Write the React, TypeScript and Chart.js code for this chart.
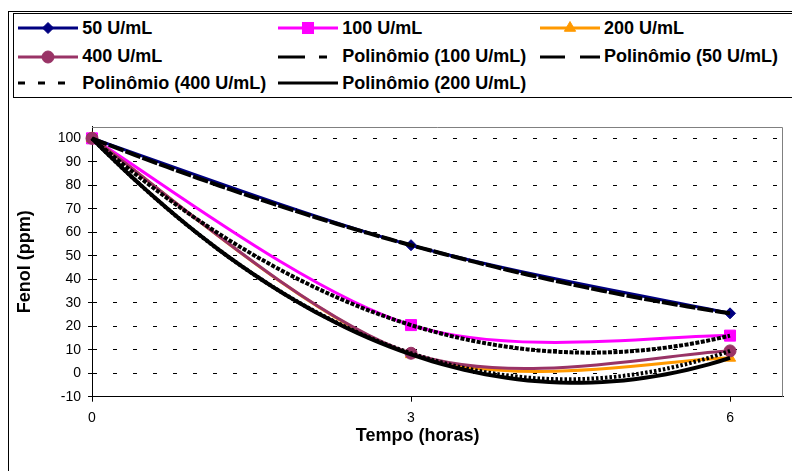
import React, { useEffect, useRef } from 'react';
import { Chart, registerables } from 'chart.js';

Chart.register(...registerables);

const FONT = '"Liberation Sans", Arial, Helvetica, sans-serif';

// ---- data ----
const tempoHoras = [0, 3, 6];
const fenol50 = [100, 54.5, 25.5];
const fenol100 = [100, 20.5, 16];
const fenol200 = [100, 8, 6.5];
const fenol400 = [100, 8.5, 9.5];

const yTickValues = [-10, 0, 10, 20, 30, 40, 50, 60, 70, 80, 90, 100];
const xTickValues = [0, 3, 6];
const X_MIN = 0;
const X_MAX = 6.5;
const Y_MIN = -10;
const Y_MAX = 105;

const xTitle = 'Tempo (horas)';
const yTitle = 'Fenol (ppm)';

type SeriesDef = {
  label: string;
  values: number[];
  color: string;
  pointStyle: 'rectRot' | 'rect' | 'triangle' | 'circle';
  radius: number;
  order: number;
};

const seriesDefs: SeriesDef[] = [
  { label: '50 U/mL', values: fenol50, color: '#000080', pointStyle: 'rectRot', radius: 5.5, order: 4 },
  { label: '100 U/mL', values: fenol100, color: '#FF00FF', pointStyle: 'rect', radius: 7.8, order: 3 },
  { label: '200 U/mL', values: fenol200, color: '#FF9900', pointStyle: 'triangle', radius: 6.5, order: 2 },
  { label: '400 U/mL', values: fenol400, color: '#993366', pointStyle: 'circle', radius: 6, order: 1 },
];

type TrendDef = { label: string; values: number[]; dash: number[]; plotDash: number[]; order: number };

const trendDefs: TrendDef[] = [
  { label: 'Polinômio (50 U/mL)', values: fenol50, dash: [25, 15], plotDash: [16, 2], order: -1 },
  { label: 'Polinômio (100 U/mL)', values: fenol100, dash: [27, 14, 8, 14], plotDash: [4, 1.5], order: -2 },
  { label: 'Polinômio (200 U/mL)', values: fenol200, dash: [], plotDash: [], order: -3 },
  { label: 'Polinômio (400 U/mL)', values: fenol400, dash: [7, 13], plotDash: [2.5, 2], order: -4 },
];

const legendRows: string[][] = [
  ['50 U/mL', '100 U/mL', '200 U/mL'],
  ['400 U/mL', 'Polinômio (100 U/mL)', 'Polinômio (50 U/mL)'],
  ['Polinômio (400 U/mL)', 'Polinômio (200 U/mL)'],
];

// ---- 2nd order polynomial trendline (least squares, as Excel does) ----
function fitQuadratic(xs: number[], ys: number[]): number[] {
  let s0 = 0, s1 = 0, s2 = 0, s3 = 0, s4 = 0, t0 = 0, t1 = 0, t2 = 0;
  for (let i = 0; i < xs.length; i++) {
    const x = xs[i];
    const y = ys[i];
    s0 += 1; s1 += x; s2 += x * x; s3 += x * x * x; s4 += x * x * x * x;
    t0 += y; t1 += x * y; t2 += x * x * y;
  }
  const m = [
    [s0, s1, s2, t0],
    [s1, s2, s3, t1],
    [s2, s3, s4, t2],
  ];
  for (let c = 0; c < 3; c++) {
    let p = c;
    for (let r = c + 1; r < 3; r++) if (Math.abs(m[r][c]) > Math.abs(m[p][c])) p = r;
    [m[c], m[p]] = [m[p], m[c]];
    for (let r = 0; r < 3; r++) {
      if (r === c) continue;
      const f = m[r][c] / m[c][c];
      for (let k = c; k < 4; k++) m[r][k] -= f * m[c][k];
    }
  }
  return [m[0][3] / m[0][0], m[1][3] / m[1][1], m[2][3] / m[2][2]]; // c0, c1, c2
}

function trendPoints(values: number[]) {
  const [c0, c1, c2] = fitQuadratic(tempoHoras, values);
  const x0 = tempoHoras[0];
  const x1 = tempoHoras[tempoHoras.length - 1];
  const steps = 60;
  const pts: { x: number; y: number }[] = [];
  for (let i = 0; i <= steps; i++) {
    const x = x0 + ((x1 - x0) * i) / steps;
    pts.push({ x, y: c0 + c1 * x + c2 * x * x });
  }
  return pts;
}

// Excel-like "smoothed line": Catmull-Rom style control points (1/6 of neighbour span)
const smoothLabels = new Set(seriesDefs.map((s) => s.label));
const excelSmoothPlugin = {
  id: 'excelSmooth',
  afterDatasetsUpdate(chart: any) {
    chart.data.datasets.forEach((ds: any, i: number) => {
      if (!smoothLabels.has(ds.label)) return;
      const meta = chart.getDatasetMeta(i);
      const pts = meta.data;
      const n = pts.length;
      for (let k = 0; k < n; k++) {
        const p = pts[k];
        const prev = pts[Math.max(k - 1, 0)];
        const next = pts[Math.min(k + 1, n - 1)];
        const dx = (next.x - prev.x) / 6;
        const dy = (next.y - prev.y) / 6;
        p.cp1x = p.x - dx;
        p.cp1y = p.y - dy;
        p.cp2x = p.x + dx;
        p.cp2y = p.y + dy;
      }
      if (meta.dataset) meta.dataset._pointsUpdated = true;
    });
  },
};

const plotFramePlugin = {
  id: 'plotFrame',
  beforeDatasetsDraw(chart: any) {
    const { ctx, chartArea } = chart;
    const top = Math.round(chartArea.top) + 0.5;
    const right = Math.round(chartArea.right) - 0.5;
    ctx.save();
    ctx.strokeStyle = '#808080';
    ctx.lineWidth = 1;
    ctx.beginPath();
    ctx.moveTo(chartArea.left, top);
    ctx.lineTo(right, top);
    ctx.lineTo(right, chartArea.bottom);
    ctx.stroke();
    ctx.restore();
  },
};

const xTitlePlugin = {
  id: 'xTitleOffset',
  afterDraw(chart: any) {
    const { ctx, chartArea } = chart;
    const text = chart.options.scales.x.title.text;
    ctx.save();
    ctx.font = `bold 18px ${FONT}`;
    ctx.fillStyle = '#000';
    ctx.textAlign = 'center';
    ctx.textBaseline = 'middle';
    ctx.fillText(text, chartArea.left + (chartArea.right - chartArea.left) * 0.471, chartArea.bottom + 39);
    ctx.restore();
  },
};

function LegendSample({ label }: { label: string }) {
  const s = seriesDefs.find((d) => d.label === label);
  const t = trendDefs.find((d) => d.label === label);
  const color = s ? s.color : '#000';
  const dash = t && t.dash.length ? t.dash.join(' ') : undefined;
  let marker: React.ReactNode = null;
  if (s) {
    const r = s.radius;
    const cx = 30;
    const cy = 10;
    if (s.pointStyle === 'rectRot') {
      marker = <polygon points={`${cx},${cy - r} ${cx + r},${cy} ${cx},${cy + r} ${cx - r},${cy}`} fill={color} stroke={color} strokeWidth={1} />;
    } else if (s.pointStyle === 'rect') {
      const h = r * Math.SQRT1_2;
      marker = <rect x={cx - h} y={cy - h} width={2 * h} height={2 * h} fill={color} stroke={color} strokeWidth={1} />;
    } else if (s.pointStyle === 'triangle') {
      const dx = r * Math.sin((2 * Math.PI) / 3);
      const dy = -r * Math.cos((2 * Math.PI) / 3);
      marker = <polygon points={`${cx},${cy - r} ${cx + dx},${cy + dy} ${cx - dx},${cy + dy}`} fill={color} stroke={color} strokeWidth={1} />;
    } else {
      marker = <circle cx={cx} cy={cy} r={r} fill={color} stroke={color} strokeWidth={1} />;
    }
  }
  return (
    <svg width={60} height={20} style={{ display: 'block', flex: '0 0 auto' }}>
      <line x1={0} y1={10} x2={60} y2={10} stroke={color} strokeWidth={3} strokeDasharray={dash} strokeLinecap="butt" />
      {marker}
    </svg>
  );
}

const legendColLefts = [18.3, 278.3, 540];
const legendRowCenters = [28.3, 56.7, 83.3];

export default function App() {
  const canvasRef = useRef<HTMLCanvasElement | null>(null);

  useEffect(() => {
    if (!canvasRef.current) return;
    const datasets: any[] = [];
    seriesDefs.forEach((s) => {
      datasets.push({
        label: s.label,
        data: tempoHoras.map((x, i) => ({ x, y: s.values[i] })),
        borderColor: s.color,
        backgroundColor: s.color,
        borderWidth: 3,
        pointStyle: s.pointStyle,
        pointRadius: s.radius,
        pointBorderWidth: 1,
        pointBorderColor: s.color,
        pointBackgroundColor: s.color,
        tension: 0.4,
        capBezierPoints: false,
        fill: false,
        clip: false,
        order: s.order,
      });
    });
    trendDefs.forEach((t) => {
      datasets.push({
        label: t.label,
        data: trendPoints(t.values),
        borderColor: '#000',
        backgroundColor: '#000',
        borderWidth: 4,
        borderDash: t.plotDash,
        pointRadius: 0,
        tension: 0,
        fill: false,
        clip: false,
        order: t.order,
      });
    });

    const chart = new Chart(canvasRef.current, {
      type: 'line',
      data: { datasets },
      options: {
        animation: false,
        responsive: false,
        devicePixelRatio: 1,
        events: [],
        layout: { padding: { left: 0, right: 1, top: 26.6, bottom: 0 } },
        plugins: {
          legend: { display: false },
          tooltip: { enabled: false },
        },
        scales: {
          x: {
            type: 'linear',
            min: X_MIN,
            max: X_MAX,
            afterBuildTicks: (axis: any) => {
              axis.ticks = xTickValues.map((v) => ({ value: v }));
            },
            afterFit: (scale: any) => {
              scale.height = 74.3;
            },
            ticks: { color: '#000', font: { family: FONT, size: 14 }, padding: 8, maxRotation: 0, autoSkip: false },
            grid: { drawOnChartArea: false, drawTicks: true, tickLength: 5, tickColor: '#000', color: '#000' },
            border: { display: true, color: '#000', width: 1 },
            title: { display: false, text: xTitle },
          },
          y: {
            type: 'linear',
            min: Y_MIN,
            max: Y_MAX,
            afterBuildTicks: (axis: any) => {
              axis.ticks = yTickValues.map((v) => ({ value: v }));
            },
            afterFit: (scale: any) => {
              scale.width = 84;
            },
            ticks: { color: '#000', font: { family: FONT, size: 14 }, padding: 7, autoSkip: false },
            grid: { color: '#000', lineWidth: 1, drawTicks: true, tickLength: 4, tickColor: '#000', tickBorderDash: [] },
            border: { display: true, color: '#000', width: 1, dash: [4, 16] },
            title: {
              display: true,
              text: yTitle,
              color: '#000',
              font: { family: FONT, size: 18, weight: 'bold' },
              padding: { top: 6, bottom: 0 },
            },
          },
        },
      } as any,
      plugins: [excelSmoothPlugin, plotFramePlugin, xTitlePlugin],
    });
    return () => chart.destroy();
  }, []);

  return (
    <div style={{ position: 'fixed', left: 0, top: 0, width: 792, height: 471, overflow: 'hidden', background: '#fff' }}>
      <div style={{ position: 'absolute', left: 8, top: 11, width: 1000, height: 1000, border: '1px solid #000', boxSizing: 'border-box' }} />
      <div style={{ position: 'absolute', left: 13, top: 13, width: 1000, height: 85, border: '1px solid #000', boxSizing: 'border-box' }} />
      {legendRows.map((row, ri) =>
        row.map((label, ci) => (
          <div
            key={label}
            style={{
              position: 'absolute',
              left: legendColLefts[ci],
              top: legendRowCenters[ri] - 10,
              height: 20,
              display: 'flex',
              alignItems: 'center',
              whiteSpace: 'nowrap',
            }}
          >
            <LegendSample label={label} />
            <span style={{ marginLeft: 4, fontFamily: FONT, fontWeight: 'bold', fontSize: 18, color: '#000', lineHeight: 'normal' }}>{label}</span>
          </div>
        ))
      )}
      <canvas ref={canvasRef} width={784} height={371} style={{ position: 'absolute', left: 8, top: 100, width: 784, height: 371 }} />
    </div>
  );
}
